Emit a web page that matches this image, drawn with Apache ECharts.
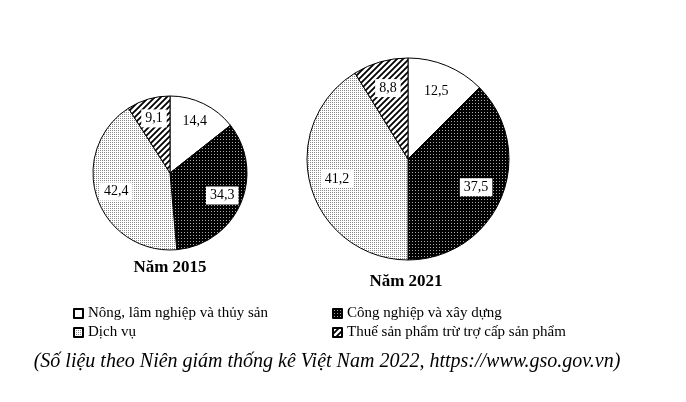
<!DOCTYPE html>
<html><head><meta charset="utf-8">
<script src="https://cdn.jsdelivr.net/npm/echarts@6/dist/echarts.min.js"></script>
<style>html,body{margin:0;padding:0;background:#fff}#c{width:686px;height:402px}</style>
</head><body><div id="c"></div>
<script>
var categories = ['Nông, lâm nghiệp và thủy sản', 'Công nghiệp và xây dựng', 'Dịch vụ', 'Thuế sản phẩm trừ trợ cấp sản phẩm'];
var values2015 = [14.4, 34.3, 42.4, 9.1];
var values2021 = [12.5, 37.5, 41.2, 8.8];
var labels2015 = ['14,4', '34,3', '42,4', '9,1'];
var labels2021 = ['12,5', '37,5', '41,2', '8,8'];
var titles = ['Năm 2015', 'Năm 2021'];
var caption = '(Số liệu theo Niên giám thống kê Việt Nam 2022, https://www.gso.gov.vn)';

function mk(w, h, draw) { var c = document.createElement('canvas'); c.width = w; c.height = h; var g = c.getContext('2d'); draw(g); return c; }
var darkPat = mk(3, 3, function (g) { g.fillStyle = '#000'; g.fillRect(0, 0, 3, 3); g.fillStyle = '#aaa'; g.fillRect(1, 1, 1, 1); });
var lightPat = mk(2, 2, function (g) { g.fillStyle = '#fff'; g.fillRect(0, 0, 2, 2); g.fillStyle = '#888'; g.fillRect(0, 0, 1, 1); });
var hatchPat = mk(6, 6, function (g) {
  g.fillStyle = '#fff'; g.fillRect(0, 0, 6, 6); g.strokeStyle = '#000'; g.lineWidth = 1.8;
  g.beginPath(); g.moveTo(-1, 7); g.lineTo(7, -1); g.moveTo(-1, 1); g.lineTo(1, -1); g.moveTo(5, 7); g.lineTo(7, 5); g.stroke();
});
var fills = ['#ffffff', { image: darkPat, repeat: 'repeat' }, { image: lightPat, repeat: 'repeat' }, { image: hatchPat, repeat: 'repeat' }];
var font = 'Liberation Serif, Times New Roman, serif';

function pieData(vals) {
  return vals.map(function (v, i) { return { name: categories[i], value: v, itemStyle: { color: fills[i], borderColor: '#000', borderWidth: 1 } }; });
}
function labelData(vals, labs) {
  return vals.map(function (v, i) { return { name: categories[i], value: v, label: { formatter: labs[i] }, itemStyle: { color: 'rgba(0,0,0,0)' } }; });
}
function pieSeries(center, r, vals) {
  return { type: 'pie', center: center, radius: [0, r], startAngle: 90, clockwise: true, silent: true, label: { show: false }, labelLine: { show: false }, data: pieData(vals) };
}
function labelSeries(center, r, vals, labs) {
  return { type: 'pie', center: center, radius: [0, r * 1.4], startAngle: 90, clockwise: true, silent: true, z: 5,
    label: { show: true, position: 'inside', color: '#000', fontFamily: font, fontSize: 14, backgroundColor: '#fff', padding: [2, 4] },
    labelLine: { show: false }, data: labelData(vals, labs) };
}
var chart = echarts.init(document.getElementById('c'));
var legendText = { fontFamily: font, fontSize: 15, color: '#000' };
chart.setOption({
  animation: false,
  legend: [
    { orient: 'vertical', left: 73, top: 306, padding: 0, itemWidth: 9, itemHeight: 9, itemGap: 4, icon: 'rect', selectedMode: false, textStyle: legendText, data: [categories[0], categories[2]] },
    { orient: 'vertical', left: 332, top: 306, padding: 0, itemWidth: 9, itemHeight: 9, itemGap: 4, icon: 'rect', selectedMode: false, textStyle: legendText, data: [categories[1], categories[3]] }
  ],
  series: [
    pieSeries([170, 173], 77, values2015),
    pieSeries([408, 159], 101, values2021),
    labelSeries([170, 173], 77, values2015, labels2015),
    labelSeries([408, 159], 101, values2021, labels2021)
  ],
  graphic: [
    { type: 'text', x: 170, y: 268, style: { text: titles[0], textAlign: 'center', textVerticalAlign: 'middle', font: 'bold 17px ' + font, fill: '#000' } },
    { type: 'text', x: 406, y: 282, style: { text: titles[1], textAlign: 'center', textVerticalAlign: 'middle', font: 'bold 17px ' + font, fill: '#000' } },
    { type: 'text', x: 327, y: 362, style: { text: caption, textAlign: 'center', textVerticalAlign: 'middle', font: 'italic 20px ' + font, fill: '#000' } }
  ]
});
</script></body></html>
